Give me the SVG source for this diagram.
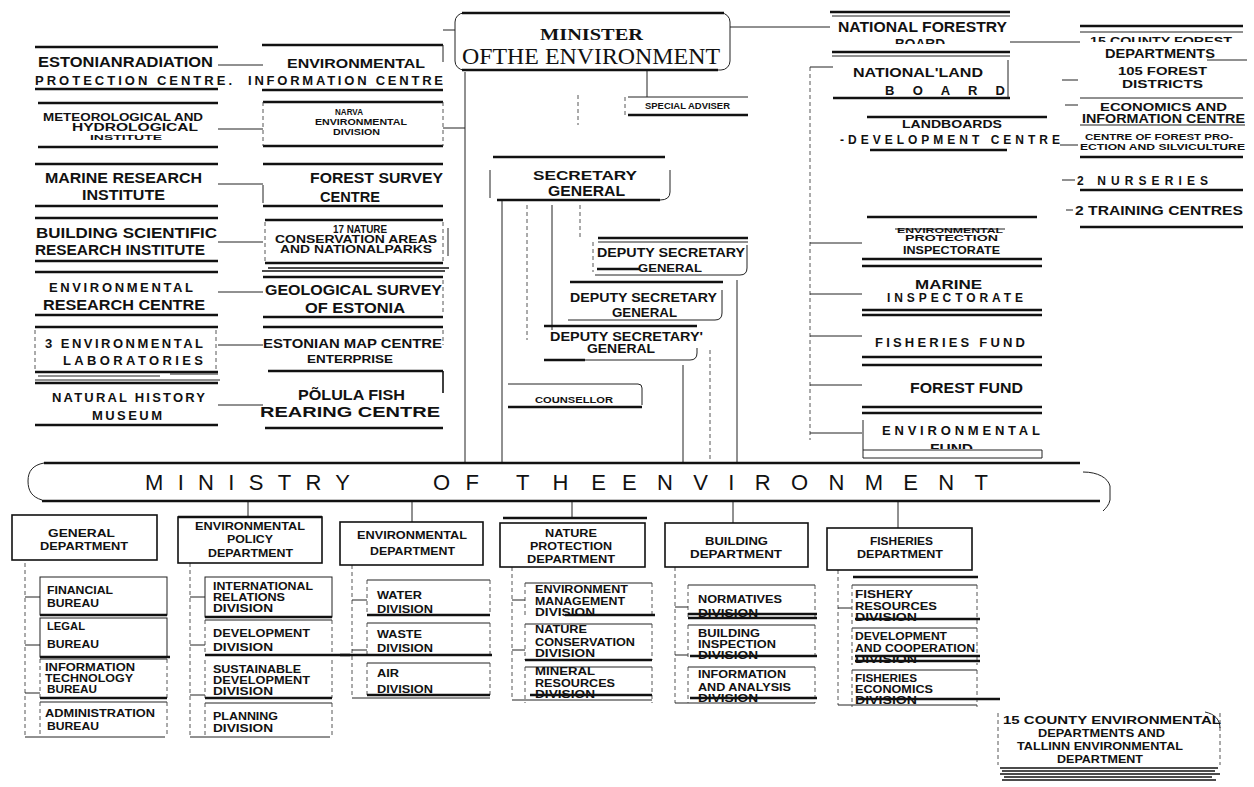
<svg xmlns="http://www.w3.org/2000/svg" width="1254" height="787" viewBox="0 0 1254 787">
<style>
.b{font-family:"Liberation Sans",Arial,sans-serif;font-weight:bold;fill:#111}
.s{font-family:"Liberation Serif","Times New Roman",serif;fill:#111}
.n{font-family:"Liberation Sans",Arial,sans-serif;fill:#111}
.h{stroke:#111;stroke-width:2.6;fill:none}
.m{stroke:#111;stroke-width:1.6;fill:none}
.t{stroke:#222;stroke-width:1;fill:none}
.d{stroke:#444;stroke-width:0.9;fill:none;stroke-dasharray:4 3}
.bx{stroke:#111;stroke-width:1.6;fill:#fff}
</style>
<defs>
<clipPath id="cb"><rect x="880" y="0" width="120" height="44"/></clipPath>
<clipPath id="cf"><rect x="920" y="400" width="80" height="49"/></clipPath>
<clipPath id="cc"><rect x="1085" y="30" width="160" height="12"/></clipPath>
</defs>
<rect width="1254" height="787" fill="#fff"/>

<g id="connectors">
<path class="t" d="M218 65H263M218 129H263M218 184H263M218 242H263M218 292H263M218 345H263M218 405H263"/>
<path class="t" d="M465 72V463M443 128H465M443 30H455"/>
<path class="t" d="M647 70V97M730 27H830"/>
<path class="d" d="M578 95V125"/>
<path class="t" d="M502 200V463M552 205V330M683 365V463M737 280V463"/>
<path class="d" d="M527 205V340M580 205V240M710 350V463"/>
<path class="d" d="M810 67V440"/>
<path class="t" d="M810 243H862M810 294H862M810 336H862M810 385H862M810 433H862M810 67H833"/>
<path class="t" d="M1010 42H1080M1062 80H1078M1065 105H1078M1060 145H1078M1062 180H1075M1066 210H1073"/>
<path class="t" d="M248 501V517M412 501V522M572 501V518M733 501V523M898 501V528"/>
<path class="d" d="M25 563V737M190 563V737M352 565V698M512 567V700M675 567V703M838 570V705"/>
<path class="t" d="M25 597H40M25 645H40M25 693H40M25 737H165M190 597H205M190 645H205M190 695H205M190 737H330M352 600H367M352 650H367M352 698H490M512 600H525M512 650H525M512 700H652M675 607H688M675 655H688M675 703H815M838 608H852M838 705H977"/>
</g>

<g id="estonian-radiation">
<path class="h" d="M35 47H218M35 89H218"/>
<text class="b" x="38" y="67" font-size="14" textLength="175" lengthAdjust="spacingAndGlyphs">ESTONIANRADIATION</text>
<text class="b" x="35" y="85" font-size="13" textLength="197" lengthAdjust="spacing">PROTECTION CENTRE.</text>
</g>
<g id="meteorological">
<path class="h" d="M38 103H218M38 147H218"/>
<text class="b" x="43" y="121" font-size="10.5" textLength="160" lengthAdjust="spacingAndGlyphs">METEOROLOGICAL AND</text>
<text class="b" x="72" y="131" font-size="11.5" textLength="126" lengthAdjust="spacingAndGlyphs">HYDROLOGICAL</text>
<text class="b" x="90" y="140" font-size="8" textLength="72" lengthAdjust="spacingAndGlyphs">INSTITUTE</text>
</g>
<g id="marine-research">
<path class="h" d="M35 164H218M35 206H218"/>
<text class="b" x="45" y="183" font-size="14" textLength="157" lengthAdjust="spacingAndGlyphs">MARINE RESEARCH</text>
<text class="b" x="82" y="200" font-size="14" textLength="83" lengthAdjust="spacingAndGlyphs">INSTITUTE</text>
</g>
<g id="building-scientific">
<path class="h" d="M35 218H218M35 261H218"/>
<text class="b" x="36" y="238" font-size="14" textLength="181" lengthAdjust="spacingAndGlyphs">BUILDING SCIENTIFIC</text>
<text class="b" x="35" y="255" font-size="14" textLength="170" lengthAdjust="spacingAndGlyphs">RESEARCH INSTITUTE</text>
</g>
<g id="env-research">
<path class="h" d="M35 272H218M35 315H218"/>
<text class="b" x="49" y="292" font-size="13" textLength="144" lengthAdjust="spacing">ENVIRONMENTAL</text>
<text class="b" x="43" y="310" font-size="14" textLength="162" lengthAdjust="spacingAndGlyphs">RESEARCH CENTRE</text>
</g>
<g id="env-labs">
<path class="h" d="M35 327H218M35 372H218"/>
<path class="t" d="M38 376H160M170 374H218M35 380H220"/>
<path class="d" d="M35 330V370M216 330V370"/>
<text class="b" x="45" y="348" font-size="13" textLength="158" lengthAdjust="spacing">3 ENVIRONMENTAL</text>
<text class="b" x="63" y="365" font-size="13" textLength="140" lengthAdjust="spacing">LABORATORIES</text>
</g>
<g id="natural-history">
<path class="h" d="M35 383H218M35 425H218"/>
<text class="b" x="52" y="402" font-size="13" textLength="153" lengthAdjust="spacing">NATURAL HISTORY</text>
<text class="b" x="92" y="420" font-size="13" textLength="70" lengthAdjust="spacing">MUSEUM</text>
</g>

<g id="env-information">
<path class="h" d="M262 45H443M262 90H443"/>
<path class="t" d="M443 45V62"/>
<text class="b" x="287" y="68" font-size="13" textLength="138" lengthAdjust="spacingAndGlyphs">ENVIRONMENTAL</text>
<text class="b" x="248" y="85" font-size="13" textLength="195" lengthAdjust="spacing">INFORMATION CENTRE</text>
</g>
<g id="narva">
<path class="h" d="M263 102H443M263 146H443"/>
<path class="d" d="M263 102V146M443 102V146"/>
<text class="b" x="335" y="115" font-size="8.5" textLength="28" lengthAdjust="spacingAndGlyphs">NARVA</text>
<text class="b" x="315" y="125" font-size="9.5" textLength="92" lengthAdjust="spacingAndGlyphs">ENVIRONMENTAL</text>
<text class="b" x="333" y="135" font-size="9.5" textLength="47" lengthAdjust="spacingAndGlyphs">DIVISION</text>
</g>
<g id="forest-survey">
<path class="h" d="M263 164H443M263 206H443"/>
<path class="t" d="M263 185V203"/>
<text class="b" x="310" y="183" font-size="15" textLength="133" lengthAdjust="spacingAndGlyphs">FOREST SURVEY</text>
<text class="b" x="320" y="202" font-size="14" textLength="60" lengthAdjust="spacingAndGlyphs">CENTRE</text>
</g>
<g id="nature-areas">
<path class="h" d="M265 220H443M265 263H443"/>
<path class="m" d="M268 268H449M262 271H445"/>
<path class="d" d="M265 222V262M443 222V262"/>
<path class="t" d="M448 228V256"/>
<text class="b" x="333" y="233" font-size="10" textLength="54" lengthAdjust="spacingAndGlyphs">17 NATURE</text>
<text class="b" x="275" y="243" font-size="10" textLength="162" lengthAdjust="spacingAndGlyphs">CONSERVATION AREAS</text>
<text class="b" x="280" y="253" font-size="10" textLength="152" lengthAdjust="spacingAndGlyphs">AND NATIONALPARKS</text>
</g>
<g id="geological">
<path class="h" d="M263 277H443M263 317H443"/>
<path class="d" d="M443 280V315"/>
<text class="b" x="265" y="295" font-size="15" textLength="177" lengthAdjust="spacingAndGlyphs">GEOLOGICAL SURVEY</text>
<text class="b" x="305" y="313" font-size="15" textLength="100" lengthAdjust="spacingAndGlyphs">OF ESTONIA</text>
</g>
<g id="map-centre">
<path class="h" d="M263 327H443"/>
<path class="d" d="M443 330V345"/>
<text class="b" x="263" y="348" font-size="12" textLength="179" lengthAdjust="spacingAndGlyphs">ESTONIAN MAP CENTRE</text>
<text class="b" x="307" y="363" font-size="11" textLength="86" lengthAdjust="spacingAndGlyphs">ENTERPRISE</text>
</g>
<g id="polula">
<path class="h" d="M268 371H443M265 428H443"/>
<path class="m" d="M443 371V393"/>
<text class="b" x="298" y="400" font-size="14" textLength="107" lengthAdjust="spacingAndGlyphs">PÕLULA FISH</text>
<text class="b" x="260" y="417" font-size="15" textLength="180" lengthAdjust="spacingAndGlyphs">REARING CENTRE</text>
</g>

<g id="minister">
<rect x="455" y="13" width="275" height="57" rx="9" class="t"/>
<path class="h" d="M462 13H724M462 70H718"/>
<text class="s" x="540" y="40" font-size="17" font-weight="bold" textLength="103" lengthAdjust="spacingAndGlyphs">MINISTER</text>
<text class="s" x="462" y="64" font-size="23" textLength="258" lengthAdjust="spacingAndGlyphs">OFTHE ENVIRONMENT</text>
</g>
<g id="special-adviser">
<path class="t" d="M628 97H748"/>
<path class="h" d="M628 115H748"/>
<path class="d" d="M625 97V115"/>
<text class="b" x="645" y="109" font-size="8.5" textLength="85" lengthAdjust="spacingAndGlyphs">SPECIAL ADVISER</text>
</g>
<g id="secretary-general">
<path class="h" d="M493 157H665M497 200H660"/>
<path class="t" d="M490 170V198M670 170V192Q670 200 660 200"/>
<text class="b" x="533" y="180" font-size="13" textLength="104" lengthAdjust="spacingAndGlyphs">SECRETARY</text>
<text class="b" x="548" y="196" font-size="14" textLength="77" lengthAdjust="spacingAndGlyphs">GENERAL</text>
</g>
<g id="deputy-1">
<path class="h" d="M598 238H748"/>
<path class="t" d="M598 242H748M595 275H740Q747 275 747 268V245"/>
<path class="h" d="M597 269H640"/>
<path class="d" d="M593 242V272"/>
<text class="b" x="597" y="257" font-size="12" textLength="148" lengthAdjust="spacingAndGlyphs">DEPUTY SECRETARY</text>
<text class="b" x="638" y="272" font-size="11" textLength="64" lengthAdjust="spacingAndGlyphs">GENERAL</text>
</g>
<g id="deputy-2">
<path class="h" d="M570 282H723"/>
<path class="t" d="M568 320H715Q722 320 722 313V290"/>
<text class="b" x="570" y="302" font-size="12" textLength="147" lengthAdjust="spacingAndGlyphs">DEPUTY SECRETARY</text>
<text class="b" x="612" y="317" font-size="12" textLength="65" lengthAdjust="spacingAndGlyphs">GENERAL</text>
</g>
<g id="deputy-3">
<path class="h" d="M544 326H697"/>
<path class="h" d="M544 360H585"/>
<path class="t" d="M585 360H690Q697 360 697 353V348"/>
<text class="b" x="550" y="341" font-size="12" textLength="153" lengthAdjust="spacingAndGlyphs">DEPUTY SECRETARY'</text>
<text class="b" x="587" y="353" font-size="12" textLength="68" lengthAdjust="spacingAndGlyphs">GENERAL</text>
</g>
<g id="counsellor">
<path class="t" d="M508 384H638Q642 384 642 388V405"/>
<path class="h" d="M508 407H642"/>
<text class="b" x="535" y="403" font-size="9.5" textLength="78" lengthAdjust="spacingAndGlyphs">COUNSELLOR</text>
</g>

<g id="national-forestry">
<path class="h" d="M830 12H1010M832 52H1010"/>
<path class="t" d="M832 16H1010M832 56H1010"/>
<text class="b" x="838" y="32" font-size="14" textLength="169" lengthAdjust="spacingAndGlyphs">NATIONAL FORESTRY</text>
<text class="b" x="895" y="48" font-size="12" textLength="50" lengthAdjust="spacingAndGlyphs" clip-path="url(#cb)">BOARD</text>
</g>
<g id="national-land">
<path class="h" d="M833 98H1010"/>
<path class="t" d="M1008 60V98"/>
<text class="b" x="853" y="77" font-size="13" textLength="130" lengthAdjust="spacingAndGlyphs">NATIONAL'LAND</text>
<text class="b" x="885" y="95" font-size="13" textLength="120" lengthAdjust="spacing">B O A R D</text>
</g>
<g id="land-boards">
<path class="h" d="M867 117H1047M870 150H1007"/>
<text class="b" x="902" y="128" font-size="11" textLength="100" lengthAdjust="spacingAndGlyphs">LANDBOARDS</text>
<text class="b" x="840" y="144" font-size="12" textLength="220" lengthAdjust="spacing">-DEVELOPMENT CENTRE</text>
</g>
<g id="env-protection">
<path class="h" d="M867 217H1037M862 259H1042M862 266H1042"/>
<path class="t" d="M895 229H1005"/>
<text class="b" x="897" y="233" font-size="8" textLength="106" lengthAdjust="spacingAndGlyphs">ENVIRONMENTAL</text>
<text class="b" x="905" y="241" font-size="9" textLength="93" lengthAdjust="spacingAndGlyphs">PROTECTION</text>
<text class="b" x="903" y="254" font-size="11" textLength="97" lengthAdjust="spacingAndGlyphs">INSPECTORATE</text>
</g>
<g id="marine-inspectorate">
<path class="h" d="M862 310H1042M862 315H1042"/>
<text class="b" x="915" y="289" font-size="12" textLength="67" lengthAdjust="spacingAndGlyphs">MARINE</text>
<text class="b" x="887" y="302" font-size="12" textLength="136" lengthAdjust="spacing">INSPECTORATE</text>
</g>
<g id="fisheries-fund">
<path class="h" d="M862 357H1042M862 365H1042"/>
<text class="b" x="875" y="347" font-size="13" textLength="150" lengthAdjust="spacing">FISHERIES FUND</text>
</g>
<g id="forest-fund">
<path class="h" d="M862 407H1042M862 413H1042"/>
<text class="b" x="910" y="393" font-size="14" textLength="113" lengthAdjust="spacingAndGlyphs">FOREST FUND</text>
</g>
<g id="environmental-fund">
<path class="t" d="M863 450H1042M863 458H1042M863 420V458M1042 450V458"/>
<text class="b" x="882" y="435" font-size="13" textLength="158" lengthAdjust="spacing">ENVIRONMENTAL</text>
<text class="b" x="930" y="453" font-size="13" textLength="43" lengthAdjust="spacingAndGlyphs" clip-path="url(#cf)">FUND</text>
</g>

<g id="county-forest">
<path class="h" d="M1080 26H1243"/>
<path class="t" d="M1080 32H1243M1207 60H1247"/>
<text class="b" x="1090" y="45" font-size="10" textLength="142" lengthAdjust="spacingAndGlyphs" clip-path="url(#cc)">15 COUNTY FOREST</text>
<text class="b" x="1105" y="58" font-size="12.5" textLength="110" lengthAdjust="spacingAndGlyphs">DEPARTMENTS</text>
</g>
<g id="forest-districts">
<path class="t" d="M1080 98H1243"/>
<text class="b" x="1118" y="75" font-size="11" textLength="89" lengthAdjust="spacingAndGlyphs">105 FOREST</text>
<text class="b" x="1122" y="88" font-size="11" textLength="81" lengthAdjust="spacingAndGlyphs">DISTRICTS</text>
</g>
<g id="economics-centre">
<path class="t" d="M1080 125H1245"/>
<text class="b" x="1100" y="111" font-size="11" textLength="127" lengthAdjust="spacingAndGlyphs">ECONOMICS AND</text>
<text class="b" x="1082" y="123" font-size="12" textLength="163" lengthAdjust="spacingAndGlyphs">INFORMATION CENTRE</text>
</g>
<g id="forest-protection">
<path class="h" d="M1080 157H1243"/>
<text class="b" x="1085" y="140" font-size="9" textLength="148" lengthAdjust="spacingAndGlyphs">CENTRE OF FOREST PRO-</text>
<text class="b" x="1080" y="150" font-size="9" textLength="165" lengthAdjust="spacingAndGlyphs">ECTION AND SILVICULTURE</text>
</g>
<g id="nurseries">
<path class="h" d="M1080 190H1243"/>
<text class="b" x="1077" y="185" font-size="12" textLength="131" lengthAdjust="spacing">2 NURSERIES</text>
</g>
<g id="training-centres">
<path class="h" d="M1080 227H1243"/>
<text class="b" x="1075" y="215" font-size="12" textLength="168" lengthAdjust="spacingAndGlyphs">2 TRAINING CENTRES</text>
</g>

<g id="ministry">
<path class="h" d="M44 463H1080M42 501H1100"/>
<path class="t" d="M44 463C33 465 28 471 28 481C28 491 32 497 42 500"/>
<path class="t" d="M1083 472C1098 472 1108 478 1110 486V500C1109 505 1106 508 1103 511"/>
<text class="n" x="145" y="490" font-size="22" textLength="205" lengthAdjust="spacing">MINISTRY</text>
<text class="n" x="433" y="490" font-size="22" textLength="46" lengthAdjust="spacing">OF</text>
<text class="n" x="516" y="490" font-size="22" textLength="90" lengthAdjust="spacing">THE</text>
<text class="n" x="622" y="490" font-size="22" textLength="366" lengthAdjust="spacing">ENVIRONMENT</text>
</g>

<g id="general-dept">
<rect class="bx" x="12" y="515" width="145" height="45"/>
<text class="b" x="48" y="537" font-size="10" textLength="67" lengthAdjust="spacingAndGlyphs">GENERAL</text>
<text class="b" x="40" y="550" font-size="10" textLength="88" lengthAdjust="spacingAndGlyphs">DEPARTMENT</text>
</g>
<g id="financial-bureau">
<rect class="t" x="40" y="577" width="127" height="38"/>
<path class="h" d="M40 615H167"/>
<text class="b" x="47" y="594" font-size="10.5" textLength="66" lengthAdjust="spacingAndGlyphs">FINANCIAL</text>
<text class="b" x="47" y="607" font-size="10.5" textLength="52" lengthAdjust="spacingAndGlyphs">BUREAU</text>
</g>
<g id="legal-bureau">
<rect class="t" x="40" y="618" width="127" height="39"/>
<path class="h" d="M40 657H170"/>
<text class="b" x="47" y="630" font-size="10.5" textLength="38" lengthAdjust="spacingAndGlyphs">LEGAL</text>
<text class="b" x="47" y="648" font-size="10.5" textLength="52" lengthAdjust="spacingAndGlyphs">BUREAU</text>
</g>
<g id="it-bureau">
<path class="t" d="M40 659H167"/>
<path class="d" d="M40 659V698M167 659V698"/>
<path class="h" d="M40 698H167"/>
<text class="b" x="45" y="671" font-size="10.5" textLength="90" lengthAdjust="spacingAndGlyphs">INFORMATION</text>
<text class="b" x="45" y="682" font-size="10.5" textLength="88" lengthAdjust="spacingAndGlyphs">TECHNOLOGY</text>
<text class="b" x="47" y="693" font-size="10.5" textLength="50" lengthAdjust="spacingAndGlyphs">BUREAU</text>
</g>
<g id="admin-bureau">
<path class="t" d="M40 702H167"/>
<path class="d" d="M40 702V735M167 702V735"/>
<text class="b" x="45" y="717" font-size="10.5" textLength="110" lengthAdjust="spacingAndGlyphs">ADMINISTRATION</text>
<text class="b" x="47" y="730" font-size="10.5" textLength="52" lengthAdjust="spacingAndGlyphs">BUREAU</text>
</g>

<g id="policy-dept">
<rect class="bx" x="178" y="517" width="144" height="46"/>
<path class="h" d="M178 517H322"/>
<text class="b" x="195" y="530" font-size="10" textLength="110" lengthAdjust="spacingAndGlyphs">ENVIRONMENTAL</text>
<text class="b" x="227" y="543" font-size="10" textLength="46" lengthAdjust="spacingAndGlyphs">POLICY</text>
<text class="b" x="208" y="557" font-size="10" textLength="85" lengthAdjust="spacingAndGlyphs">DEPARTMENT</text>
</g>
<g id="international-div">
<rect class="t" x="205" y="577" width="127" height="40"/>
<path class="h" d="M205 617H332"/>
<text class="b" x="213" y="590" font-size="10.5" textLength="100" lengthAdjust="spacingAndGlyphs">INTERNATIONAL</text>
<text class="b" x="213" y="601" font-size="10.5" textLength="72" lengthAdjust="spacingAndGlyphs">RELATIONS</text>
<text class="b" x="213" y="612" font-size="10.5" textLength="60" lengthAdjust="spacingAndGlyphs">DIVISION</text>
</g>
<g id="development-div">
<path class="t" d="M205 620H332"/>
<path class="d" d="M205 620V655M332 620V655"/>
<path class="h" d="M205 655H350"/>
<text class="b" x="213" y="637" font-size="10.5" textLength="97" lengthAdjust="spacingAndGlyphs">DEVELOPMENT</text>
<text class="b" x="213" y="651" font-size="10.5" textLength="60" lengthAdjust="spacingAndGlyphs">DIVISION</text>
</g>
<g id="sustainable-div">
<path class="d" d="M205 660V698M332 660V698"/>
<path class="h" d="M205 698H332"/>
<text class="b" x="213" y="673" font-size="10.5" textLength="88" lengthAdjust="spacingAndGlyphs">SUSTAINABLE</text>
<text class="b" x="213" y="684" font-size="10.5" textLength="97" lengthAdjust="spacingAndGlyphs">DEVELOPMENT</text>
<text class="b" x="213" y="695" font-size="10.5" textLength="60" lengthAdjust="spacingAndGlyphs">DIVISION</text>
</g>
<g id="planning-div">
<path class="t" d="M205 703H332"/>
<path class="d" d="M205 703V735M332 703V735"/>
<text class="b" x="213" y="720" font-size="10.5" textLength="65" lengthAdjust="spacingAndGlyphs">PLANNING</text>
<text class="b" x="213" y="732" font-size="10.5" textLength="60" lengthAdjust="spacingAndGlyphs">DIVISION</text>
</g>

<g id="environmental-dept">
<rect class="bx" x="340" y="522" width="143" height="43"/>
<text class="b" x="357" y="539" font-size="10" textLength="110" lengthAdjust="spacingAndGlyphs">ENVIRONMENTAL</text>
<text class="b" x="370" y="555" font-size="10" textLength="85" lengthAdjust="spacingAndGlyphs">DEPARTMENT</text>
</g>
<g id="water-div">
<path class="t" d="M367 580H490"/>
<path class="d" d="M367 580V615M490 580V615"/>
<path class="h" d="M367 615H490"/>
<text class="b" x="377" y="599" font-size="10.5" textLength="45" lengthAdjust="spacingAndGlyphs">WATER</text>
<text class="b" x="377" y="613" font-size="10.5" textLength="56" lengthAdjust="spacingAndGlyphs">DIVISION</text>
</g>
<g id="waste-div">
<path class="t" d="M367 623H490"/>
<path class="d" d="M367 623V655M490 623V655"/>
<path class="h" d="M340 655H492"/>
<text class="b" x="377" y="638" font-size="10.5" textLength="45" lengthAdjust="spacingAndGlyphs">WASTE</text>
<text class="b" x="377" y="652" font-size="10.5" textLength="56" lengthAdjust="spacingAndGlyphs">DIVISION</text>
</g>
<g id="air-div">
<path class="t" d="M367 663H490"/>
<path class="d" d="M367 663V695M490 663V695"/>
<path class="h" d="M367 695H490"/>
<text class="b" x="377" y="677" font-size="10.5" textLength="22" lengthAdjust="spacingAndGlyphs">AIR</text>
<text class="b" x="377" y="693" font-size="10.5" textLength="56" lengthAdjust="spacingAndGlyphs">DIVISION</text>
</g>

<g id="nature-dept">
<rect class="bx" x="500" y="523" width="145" height="44"/>
<path class="h" d="M503 518H647"/>
<text class="b" x="545" y="537" font-size="10" textLength="52" lengthAdjust="spacingAndGlyphs">NATURE</text>
<text class="b" x="530" y="550" font-size="10" textLength="82" lengthAdjust="spacingAndGlyphs">PROTECTION</text>
<text class="b" x="527" y="563" font-size="10" textLength="88" lengthAdjust="spacingAndGlyphs">DEPARTMENT</text>
</g>
<g id="env-management-div">
<path class="t" d="M525 583H652"/>
<path class="d" d="M525 583V618M652 583V618"/>
<path class="h" d="M565 615H655"/>
<text class="b" x="535" y="593" font-size="10.5" textLength="93" lengthAdjust="spacingAndGlyphs">ENVIRONMENT</text>
<text class="b" x="535" y="605" font-size="10.5" textLength="90" lengthAdjust="spacingAndGlyphs">MANAGEMENT</text>
<text class="b" x="535" y="616" font-size="10.5" textLength="60" lengthAdjust="spacingAndGlyphs">DIVISION</text>
</g>
<g id="nature-conservation-div">
<path class="t" d="M525 624H652"/>
<path class="d" d="M525 624V660M652 624V660"/>
<path class="h" d="M525 660H652"/>
<text class="b" x="535" y="633" font-size="10.5" textLength="52" lengthAdjust="spacingAndGlyphs">NATURE</text>
<text class="b" x="535" y="646" font-size="10.5" textLength="100" lengthAdjust="spacingAndGlyphs">CONSERVATION</text>
<text class="b" x="535" y="657" font-size="10.5" textLength="60" lengthAdjust="spacingAndGlyphs">DIVISION</text>
</g>
<g id="mineral-div">
<path class="t" d="M525 667H652"/>
<path class="d" d="M525 667V703M652 667V703"/>
<path class="h" d="M530 695H652"/>
<text class="b" x="535" y="675" font-size="10.5" textLength="60" lengthAdjust="spacingAndGlyphs">MINERAL</text>
<text class="b" x="535" y="687" font-size="10.5" textLength="80" lengthAdjust="spacingAndGlyphs">RESOURCES</text>
<text class="b" x="535" y="698" font-size="10.5" textLength="60" lengthAdjust="spacingAndGlyphs">DIVISION</text>
</g>

<g id="building-dept">
<rect class="bx" x="665" y="523" width="143" height="44"/>
<text class="b" x="705" y="545" font-size="10" textLength="63" lengthAdjust="spacingAndGlyphs">BUILDING</text>
<text class="b" x="690" y="558" font-size="10" textLength="92" lengthAdjust="spacingAndGlyphs">DEPARTMENT</text>
</g>
<g id="normatives-div">
<path class="t" d="M688 585H815"/>
<path class="d" d="M688 585V618M815 585V618"/>
<path class="h" d="M688 614H817M688 618H817"/>
<text class="b" x="698" y="603" font-size="10.5" textLength="84" lengthAdjust="spacingAndGlyphs">NORMATIVES</text>
<text class="b" x="698" y="617" font-size="10.5" textLength="60" lengthAdjust="spacingAndGlyphs">DIVISION</text>
</g>
<g id="inspection-div">
<path class="t" d="M688 625H815"/>
<path class="d" d="M688 625V660M815 625V660"/>
<path class="h" d="M690 656H817"/>
<text class="b" x="698" y="637" font-size="10.5" textLength="62" lengthAdjust="spacingAndGlyphs">BUILDING</text>
<text class="b" x="698" y="648" font-size="10.5" textLength="78" lengthAdjust="spacingAndGlyphs">INSPECTION</text>
<text class="b" x="698" y="659" font-size="10.5" textLength="60" lengthAdjust="spacingAndGlyphs">DIVISION</text>
</g>
<g id="analysis-div">
<path class="t" d="M688 667H815"/>
<path class="d" d="M688 667V703M815 667V703"/>
<path class="h" d="M690 698H817"/>
<text class="b" x="698" y="678" font-size="10.5" textLength="88" lengthAdjust="spacingAndGlyphs">INFORMATION</text>
<text class="b" x="698" y="691" font-size="10.5" textLength="93" lengthAdjust="spacingAndGlyphs">AND ANALYSIS</text>
<text class="b" x="698" y="702" font-size="10.5" textLength="60" lengthAdjust="spacingAndGlyphs">DIVISION</text>
</g>

<g id="fisheries-dept">
<rect class="bx" x="827" y="528" width="145" height="42"/>
<path class="h" d="M853 577H978"/>
<text class="b" x="870" y="545" font-size="10" textLength="63" lengthAdjust="spacingAndGlyphs">FISHERIES</text>
<text class="b" x="857" y="558" font-size="10" textLength="86" lengthAdjust="spacingAndGlyphs">DEPARTMENT</text>
</g>
<g id="fishery-resources-div">
<path class="t" d="M852 585H977"/>
<path class="d" d="M852 585V625M977 585V625"/>
<path class="h" d="M855 619H980"/>
<text class="b" x="855" y="598" font-size="10.5" textLength="58" lengthAdjust="spacingAndGlyphs">FISHERY</text>
<text class="b" x="855" y="610" font-size="10.5" textLength="82" lengthAdjust="spacingAndGlyphs">RESOURCES</text>
<text class="b" x="855" y="621" font-size="10.5" textLength="62" lengthAdjust="spacingAndGlyphs">DIVISION</text>
</g>
<g id="cooperation-div">
<path class="t" d="M852 628H977"/>
<path class="d" d="M852 628V665M977 628V665"/>
<path class="h" d="M855 656H980M855 661H980"/>
<text class="b" x="855" y="640" font-size="10.5" textLength="92" lengthAdjust="spacingAndGlyphs">DEVELOPMENT</text>
<text class="b" x="855" y="652" font-size="10.5" textLength="120" lengthAdjust="spacingAndGlyphs">AND COOPERATION</text>
<text class="b" x="855" y="663" font-size="10.5" textLength="62" lengthAdjust="spacingAndGlyphs">DIVISION</text>
</g>
<g id="fisheries-economics-div">
<path class="t" d="M852 670H977"/>
<path class="d" d="M852 670V707M977 670V707"/>
<path class="h" d="M858 699H1000"/>
<text class="b" x="855" y="682" font-size="10.5" textLength="62" lengthAdjust="spacingAndGlyphs">FISHERIES</text>
<text class="b" x="855" y="693" font-size="10.5" textLength="78" lengthAdjust="spacingAndGlyphs">ECONOMICS</text>
<text class="b" x="855" y="704" font-size="10.5" textLength="62" lengthAdjust="spacingAndGlyphs">DIVISION</text>
</g>

<g id="county-env-depts">
<path class="d" d="M998 713V765M1220 713V765"/>
<path class="t" d="M1205 712C1215 714 1220 720 1220 728"/>
<path class="m" d="M1000 768H1218M1002 771H1215M1000 774H1220M1004 777H1212M1002 780H1216"/>
<text class="b" x="1003" y="724" font-size="10" textLength="218" lengthAdjust="spacingAndGlyphs">15 COUNTY ENVIRONMENTAL</text>
<text class="b" x="1038" y="737" font-size="10" textLength="127" lengthAdjust="spacingAndGlyphs">DEPARTMENTS AND</text>
<text class="b" x="1017" y="750" font-size="10" textLength="166" lengthAdjust="spacingAndGlyphs">TALLINN ENVIRONMENTAL</text>
<text class="b" x="1057" y="763" font-size="10" textLength="86" lengthAdjust="spacingAndGlyphs">DEPARTMENT</text>
</g>
</svg>
